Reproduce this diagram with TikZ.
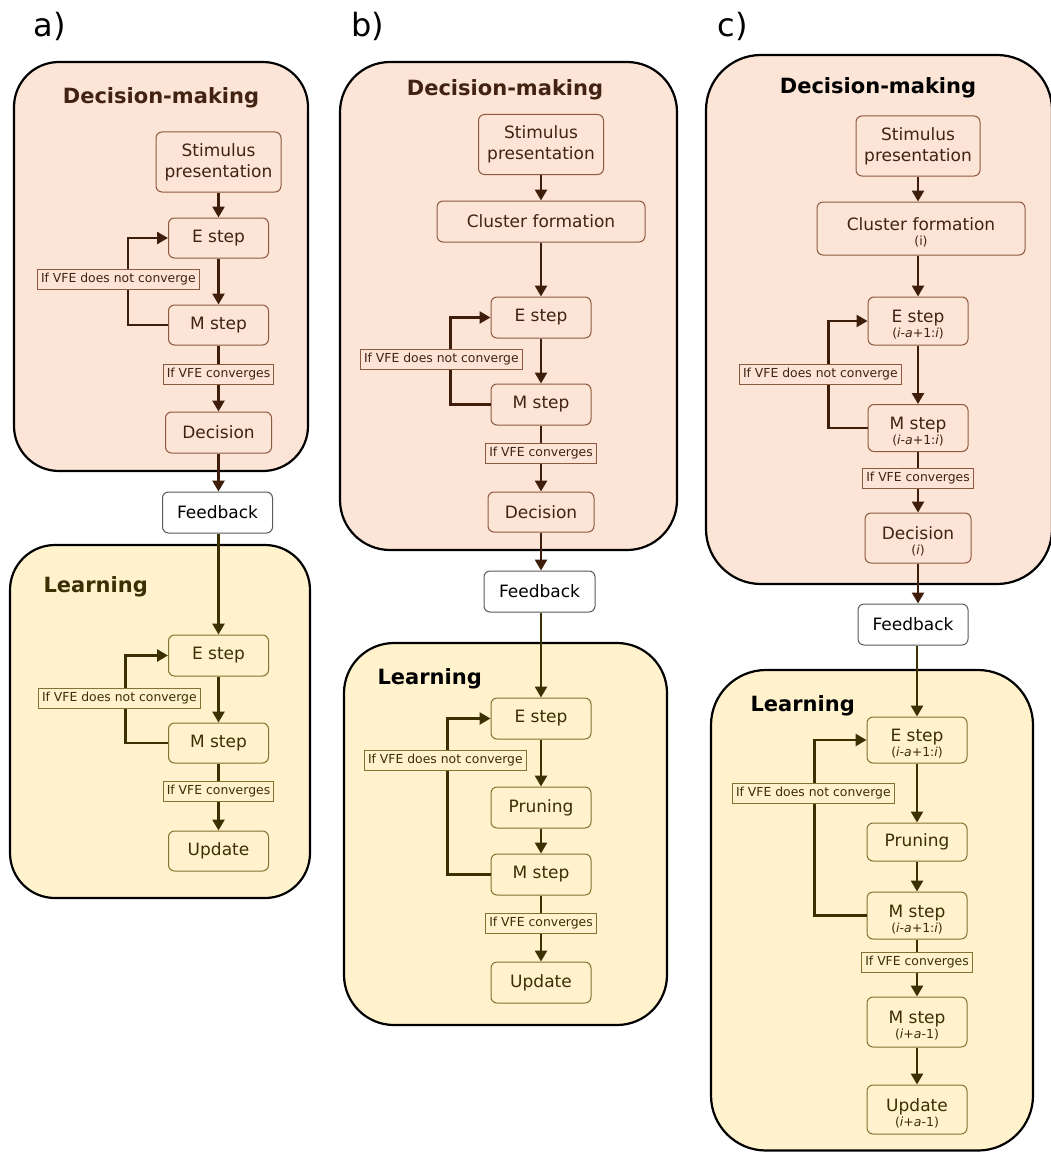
\documentclass[tikz,border=0pt]{standalone}
\usepackage{fontspec}
\setmainfont{DejaVu Sans}
\usetikzlibrary{arrows.meta}

\definecolor{dmfill}{RGB}{252,228,214}
\definecolor{dmline}{RGB}{140,90,62}
\definecolor{dmtext}{RGB}{66,34,16}
\definecolor{dmarrow}{RGB}{62,30,10}
\definecolor{lnfill}{RGB}{255,242,204}
\definecolor{lnline}{RGB}{132,114,48}
\definecolor{lntext}{RGB}{58,48,4}
\definecolor{lnarrow}{RGB}{58,48,0}
\definecolor{fbline}{RGB}{90,90,90}

\newcommand\boxfont{\fontsize{17}{21}\selectfont}
\newcommand\idxfont{\fontsize{12.5}{14}\selectfont}
\newcommand\condfont{\fontsize{12.4}{14}\selectfont}
\newcommand\headfont{\fontsize{21}{25}\selectfont\bfseries}
\newcommand\tagfont{\fontsize{32}{38}\selectfont}
% main line of a two-line step box, with its sub-index line below
\newcommand\steptwo[2]{\rule{0pt}{20pt}#1\\[-6pt]{\idxfont #2}}

\tikzset{
  box/.style={rounded corners=6pt, line width=1pt, align=center, font=\boxfont, inner sep=2pt},
  dmbox/.style={box, draw=dmline, fill=dmfill, text=dmtext},
  lnbox/.style={box, draw=lnline, fill=lnfill, text=lntext},
  fbbox/.style={box, draw=fbline, fill=white, text=black},
  sz/.style 2 args={minimum width=#1pt, minimum height=#2pt},
  cond/.style={font=\condfont, inner xsep=3.5pt, inner ysep=0pt, minimum height=20pt, line width=1pt},
  dmcond/.style={cond, draw=dmline, fill=dmfill, text=dmtext},
  lncond/.style={cond, draw=lnline, fill=lnfill, text=lntext},
  dmarr/.style={draw=dmarrow, line width=2.6pt, -{Triangle[length=11pt,width=12pt]}},
  lnarr/.style={draw=lnarrow, line width=2.6pt, -{Triangle[length=11pt,width=12pt]}},
  panel/.style={line width=2.2pt, draw=black},
  dmpanel/.style={panel, fill=dmfill},
  lnpanel/.style={panel, fill=lnfill},
  head/.style={font=\headfont},
  tag/.style={font=\tagfont, anchor=base west},
}

\begin{document}
\begin{tikzpicture}[x=1pt, y=-1pt]
\useasboundingbox (0,0) rectangle (1051,1153);
\fill[white] (0,0) rectangle (1051,1153);

% ---------------- a) ----------------
\node[tag] (tagA) at (30,37) {a)};
\draw[dmpanel, rounded corners=45pt] (14,62) rectangle (308,471);
\node[head, text=dmtext] (aDMt) at (161,98) {Decision-making};
\node[dmbox, sz={125}{60}] (aStim) at (218.5,162) {Stimulus\\presentation};
\node[dmbox, sz={100}{40}] (aE) at (218.5,238) {E step};
\node[dmbox, sz={100}{40}] (aM) at (218.5,325) {M step};
\node[dmbox, sz={106}{41}] (aDec) at (218.5,432.5) {Decision};
\node[fbbox, sz={110}{41}] (aFB) at (217.5,512.5) {Feedback};
\draw[lnpanel, rounded corners=45pt] (10,545) rectangle (310,898);
\node[head, text=lntext, anchor=west] (aLt) at (40,587) {Learning};
\node[lnbox, sz={100}{41}] (aLE) at (218.5,655.5) {E step};
\node[lnbox, sz={100}{40}] (aLM) at (218.5,743) {M step};
\node[lnbox, sz={100}{40}] (aLU) at (218.5,851) {Update};

\draw[dmarr] (aStim.south) -- (aE.north);
\draw[dmarr] (aE.south) -- (aM.north);
\draw[dmarr] (aM.south) -- (aDec.north);
\draw[dmarr] (aM.west) -- ++(-40,0) |- (aE.west);
\draw[dmarr] (aDec.south) -- (aDec.south |- aFB.north);
\draw[lnarr] (aLE.north |- aFB.south) -- (aLE.north);
\draw[lnarr] (aLE.south) -- (aLM.north);
\draw[lnarr] (aLM.south) -- (aLU.north);
\draw[lnarr] (aLM.west) -- ++(-42.5,0) |- (aLE.west);

\node[dmcond, anchor=west] (aNC) at (37,279.5) {If VFE does not converge};
\node[dmcond] (aC) at (218.5,374) {If VFE converges};
\node[lncond, anchor=west] (aLNC) at (38,698) {If VFE does not converge};
\node[lncond] (aLC) at (218.5,791) {If VFE converges};

% ---------------- b) ----------------
\node[tag] (tagB) at (348,37) {b)};
\draw[dmpanel, rounded corners=50pt] (340,62) rectangle (677,550);
\node[head, text=dmtext] (bDMt) at (505,90) {Decision-making};
\node[dmbox, sz={125}{60}] (bStim) at (541,144.5) {Stimulus\\presentation};
\node[dmbox, sz={208}{41}] (bClu) at (541,221.5) {Cluster formation};
\node[dmbox, sz={100}{41}] (bE) at (541,317.5) {E step};
\node[dmbox, sz={100}{41}] (bM) at (541,404.5) {M step};
\node[dmbox, sz={106}{40}] (bDec) at (541,512) {Decision};
\node[fbbox, sz={111}{41}] (bFB) at (539.5,591.5) {Feedback};
\draw[lnpanel, rounded corners=50pt] (344,643) rectangle (667,1025);
\node[head, text=black, anchor=west] (bLt) at (374,679) {Learning};
\node[lnbox, sz={100}{41}] (bLE) at (541,718.5) {E step};
\node[lnbox, sz={100}{41}] (bPr) at (541,807.5) {Pruning};
\node[lnbox, sz={100}{41}] (bLM) at (541,874.5) {M step};
\node[lnbox, sz={100}{41}] (bLU) at (541,982.5) {Update};

\draw[dmarr] (bStim.south) -- (bClu.north);
\draw[dmarr] (bClu.south) -- (bE.north);
\draw[dmarr] (bE.south) -- (bM.north);
\draw[dmarr] (bM.south) -- (bDec.north);
\draw[dmarr] (bM.west) -- ++(-40,0) |- (bE.west);
\draw[dmarr] (bDec.south) -- (bDec.south |- bFB.north);
\draw[lnarr] (bLE.north |- bFB.south) -- (bLE.north);
\draw[lnarr] (bLE.south) -- (bPr.north);
\draw[lnarr] (bPr.south) -- (bLM.north);
\draw[lnarr] (bLM.south) -- (bLU.north);
\draw[lnarr] (bLM.west) -- ++(-43,0) |- (bLE.west);

\node[dmcond, anchor=west] (bNC) at (360,359) {If VFE does not converge};
\node[dmcond] (bC) at (541,453) {If VFE converges};
\node[lncond, anchor=west] (bLNC) at (364,760) {If VFE does not converge};
\node[lncond] (bLC) at (541,923) {If VFE converges};

% ---------------- c) ----------------
\node[tag] (tagC) at (714,37) {c)};
\draw[dmpanel, rounded corners=55pt] (706,55) rectangle (1052,584);
\node[head, text=black] (cDMt) at (878,88) {Decision-making};
\node[dmbox, sz={124}{60}] (cStim) at (918,146) {Stimulus\\presentation};
\node[dmbox, sz={208}{53}] (cClu) at (921,228.5) {\steptwo{Cluster formation}{(i)}};
\node[dmbox, sz={100}{48}] (cE) at (918,321) {\steptwo{E step}{(\textit{i}-\textit{a}+1:\textit{i})}};
\node[dmbox, sz={100}{47}] (cM) at (918,428) {\steptwo{M step}{(\textit{i}-\textit{a}+1:\textit{i})}};
\node[dmbox, sz={106}{50}] (cDec) at (918,538) {\steptwo{Decision}{(\textit{i})}};
\node[fbbox, sz={110}{41}] (cFB) at (913,624.5) {Feedback};
\draw[lnpanel, rounded corners=55pt] (711,670) rectangle (1033,1150.5);
\node[head, text=black, anchor=west] (cLt) at (747,706) {Learning};
\node[lnbox, sz={100}{46}] (cLE) at (917,740) {\steptwo{E step}{(\textit{i}-\textit{a}+1:\textit{i})}};
\node[lnbox, sz={100}{38}] (cPr) at (917,842) {Pruning};
\node[lnbox, sz={100}{47}] (cLM) at (917,915.5) {\steptwo{M step}{(\textit{i}-\textit{a}+1:\textit{i})}};
\node[lnbox, sz={100}{50}] (cLM2) at (917,1022) {\steptwo{M step}{(\textit{i}+\textit{a}-1)}};
\node[lnbox, sz={100}{49}] (cLU) at (917,1109.5) {\steptwo{Update}{(\textit{i}+\textit{a}-1)}};

\draw[dmarr] (cStim.south) -- (cStim.south |- cClu.north);
\draw[dmarr] (cE.north |- cClu.south) -- (cE.north);
\draw[dmarr] (cE.south) -- (cM.north);
\draw[dmarr] (cM.south) -- (cDec.north);
\draw[dmarr] (cM.west) -- ++(-39,0) |- (cE.west);
\draw[dmarr] (cDec.south) -- (cDec.south |- cFB.north);
\draw[lnarr] (cLE.north |- cFB.south) -- (cLE.north);
\draw[lnarr] (cLE.south) -- (cPr.north);
\draw[lnarr] (cPr.south) -- (cLM.north);
\draw[lnarr] (cLM.south) -- (cLM2.north);
\draw[lnarr] (cLM2.south) -- (cLU.north);
\draw[lnarr] (cLM.west) -- ++(-52,0) |- (cLE.west);

\node[dmcond, anchor=west] (cNC) at (739,374) {If VFE does not converge};
\node[dmcond] (cC) at (918,478) {If VFE converges};
\node[lncond, anchor=west] (cLNC) at (732,793.5) {If VFE does not converge};
\node[lncond] (cLC) at (917,962) {If VFE converges};
\end{tikzpicture}
\end{document}
